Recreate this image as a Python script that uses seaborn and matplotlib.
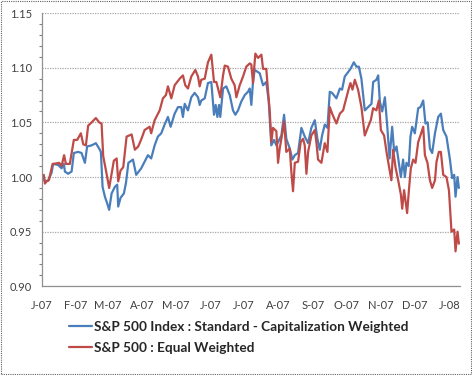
import numpy as np
import pandas as pd
import matplotlib
matplotlib.use('Agg')
import matplotlib.pyplot as plt
import matplotlib.ticker as mticker
import seaborn as sns
from matplotlib.patches import Rectangle

# days since 2007-01-01 and index level
cap_days = [2, 3, 6, 9, 10.4, 14.9, 17.9, 20.0, 20.9, 23.8,
            26.9, 28.9, 32.8, 35.8, 38.8, 40.8, 44.8, 48.6, 51.6, 53.1,
            54.6, 56.7, 58.7, 60.5, 62.7, 65.6, 67.7, 68.6, 70.7, 73.7,
            75.6, 77.7, 81.8, 84.7, 89.2, 95.2, 98.1, 101.2, 104.1, 107.1,
            110.1, 113.1, 115.5, 119.1, 122.1, 125.0, 126.5, 128.1, 131.0, 134.0,
            137.0, 140.0, 141.5, 142.9, 146.0, 148.9, 151.9, 154.3, 155.8, 157.3,
            158.8, 159.9, 162.4, 165.3, 168.4, 171.3, 173.4, 175.8, 178.7, 181.8,
            184.7, 186.3, 187.7, 189.2, 190.7, 195.2, 198.2, 201.1, 203.3, 205.6,
            208.0, 210.1, 212.1, 214.6, 217.0, 219.0, 222.1, 224.4, 226.6, 229.5,
            232.5, 235.5, 238.5, 241.4, 244.5, 246.8, 248.9, 251.0, 253.4, 255.8,
            257.9, 260.0, 263.8, 266.9, 268.9, 271.3, 274.3, 276.4, 279.4, 281.7,
            283.9, 286.2, 289.2, 292.2, 295.2, 296.7, 299.6, 301.2, 302.7, 304.8,
            307.2, 309.2, 311.4, 313.7, 315.5, 317.6, 319.1, 321.5, 323.5, 325.1,
            326.5, 328.5, 330.1, 331.6, 334.0, 337.0, 339.0, 341.5, 343.5, 345.5,
            347.5, 349.5, 352.0, 354.9, 357.3, 359.4, 362.3, 365.4, 367.4, 369.2,
            370.4, 372.2, 373.4]
cap_vals = [0.999, 0.996, 0.997, 1.004, 1.012, 1.011, 1.008, 1.012, 1.005, 1.003,
            1.005, 1.022, 1.023, 1.022, 1.013, 1.028, 1.029, 1.031, 1.026, 1.023,
            0.991, 0.982, 0.976, 0.970, 0.985, 0.991, 0.993, 0.973, 0.981, 0.985,
            0.995, 1.013, 1.016, 1.002, 1.008, 1.020, 1.017, 1.029, 1.037, 1.040,
            1.048, 1.055, 1.046, 1.058, 1.064, 1.064, 1.055, 1.067, 1.061, 1.073,
            1.077, 1.073, 1.066, 1.070, 1.072, 1.086, 1.087, 1.057, 1.066, 1.055,
            1.066, 1.055, 1.081, 1.083, 1.075, 1.061, 1.057, 1.061, 1.069, 1.075,
            1.078, 1.081, 1.066, 1.087, 1.098, 1.095, 1.084, 1.087, 1.069, 1.029,
            1.034, 1.029, 1.033, 1.038, 1.057, 1.035, 1.026, 1.016, 1.020, 1.022,
            1.045, 1.037, 1.031, 1.045, 1.052, 1.035, 1.025, 1.038, 1.048, 1.045,
            1.078, 1.077, 1.072, 1.081, 1.080, 1.092, 1.096, 1.099, 1.105, 1.101,
            1.101, 1.090, 1.061, 1.064, 1.067, 1.087, 1.089, 1.093, 1.069, 1.060,
            1.073, 1.048, 1.017, 1.046, 1.023, 1.028, 1.017, 1.000, 1.016, 1.000,
            1.013, 1.010, 1.037, 1.046, 1.040, 1.063, 1.064, 1.070, 1.049, 1.050,
            1.026, 1.022, 1.040, 1.055, 1.058, 1.043, 1.037, 1.016, 0.999, 1.002,
            0.982, 1.000, 0.990]

eq_days = [2, 3, 4.5, 6.5, 8.1, 9.9, 13.4, 15.8, 17.9, 20.2,
           21.8, 25.3, 28.9, 31.9, 35.2, 37.3, 39.7, 41.7, 44.8, 48.6,
           51.6, 53.7, 55.2, 58.2, 60.5, 62.7, 64.7, 67.2, 68.6, 70.7,
           73.1, 76.1, 80.6, 83.5, 86.5, 89.4, 92.2, 96.7, 98.1, 101.2,
           105.7, 108.6, 111.3, 113.1, 116.1, 119.1, 123.6, 126.5, 128.6, 131.0,
           134.0, 137.6, 140.0, 141.5, 142.9, 146.0, 148.9, 151.9, 154.3, 156.4,
           159.9, 162.4, 163.9, 166.8, 169.8, 172.8, 174.3, 177.3, 180.3, 183.2,
           186.3, 187.7, 189.2, 191.3, 193.7, 196.7, 198.2, 201.1, 202.7, 204.2,
           205.6, 207.1, 210.1, 211.6, 213.1, 214.6, 217.0, 219.0, 222.1, 223.5,
           225.0, 226.6, 229.5, 231.9, 234.0, 235.5, 237.0, 238.5, 241.4, 244.5,
           245.9, 247.4, 250.4, 253.4, 255.8, 257.9, 260.0, 263.8, 266.9, 269.8,
           272.8, 274.9, 276.4, 278.2, 280.3, 283.2, 286.2, 289.2, 292.2, 294.6,
           296.7, 299.6, 301.8, 303.6, 306.5, 308.8, 313.0, 314.6, 316.7, 319.1,
           321.5, 322.7, 324.4, 327.1, 328.7, 330.4, 332.5, 334.6, 337.0, 339.0,
           341.5, 343.0, 345.3, 347.5, 349.5, 352.0, 353.4, 355.5, 357.3, 359.4,
           362.3, 364.5, 366.8, 369.2, 370.4, 372.2, 373.4]
eq_vals = [1.002, 0.994, 0.996, 0.997, 1.004, 1.012, 1.0125, 1.013, 1.010, 1.020,
           1.012, 1.012, 1.034, 1.034, 1.040, 1.030, 1.029, 1.047, 1.050, 1.054,
           1.050, 1.049, 1.019, 1.003, 0.990, 1.003, 1.015, 1.017, 0.996, 1.006,
           1.009, 1.037, 1.039, 1.025, 1.028, 1.035, 1.043, 1.046, 1.040, 1.052,
           1.061, 1.072, 1.075, 1.083, 1.072, 1.084, 1.090, 1.093, 1.084, 1.081,
           1.092, 1.098, 1.092, 1.083, 1.089, 1.090, 1.105, 1.112, 1.087, 1.087,
           1.073, 1.093, 1.102, 1.101, 1.090, 1.084, 1.073, 1.084, 1.092, 1.101,
           1.104, 1.103, 1.086, 1.113, 1.109, 1.112, 1.099, 1.099, 1.078, 1.060,
           1.032, 1.045, 1.042, 1.013, 1.026, 1.035, 1.051, 1.023, 1.026, 1.005,
           0.987, 1.013, 1.014, 1.032, 1.035, 1.029, 1.003, 1.023, 1.038, 1.043,
           1.032, 1.016, 1.013, 1.031, 1.023, 1.064, 1.058, 1.049, 1.058, 1.061,
           1.073, 1.081, 1.086, 1.080, 1.089, 1.080, 1.064, 1.038, 1.046, 1.052,
           1.063, 1.061, 1.070, 1.043, 1.038, 1.022, 0.997, 1.025, 1.009, 0.997,
           0.984, 0.971, 0.988, 0.967, 0.988, 1.008, 1.016, 1.013, 1.032, 1.038,
           1.046, 1.020, 1.013, 0.997, 0.990, 0.997, 1.014, 1.023, 1.023, 1.002,
           1.000, 0.988, 0.950, 0.952, 0.932, 0.950, 0.939]

series_names = ['S&P 500 Index : Standard - Capitalization Weighted',
                'S&P 500 : Equal Weighted']
month_labels = ['J-07', 'F-07', 'M-07', 'A-07', 'M-07', 'J-07', 'J-07',
                'A-07', 'S-07', 'O-07', 'N-07', 'D-07', 'J-08']
y_ticks = [0.90, 0.95, 1.00, 1.05, 1.10, 1.15]

start = pd.Timestamp('2007-01-01')
df = pd.concat([
    pd.DataFrame({'date': start + pd.to_timedelta(cap_days, unit='D'),
                  'value': cap_vals, 'series': series_names[0]}),
    pd.DataFrame({'date': start + pd.to_timedelta(eq_days, unit='D'),
                  'value': eq_vals, 'series': series_names[1]}),
])

sns.set_style('white')
plt.rcParams['font.family'] = ['Lato', 'DejaVu Sans']

fig = plt.figure(figsize=(4.72, 3.75), dpi=100)
ax = fig.add_axes([0.088, 0.2365, 0.887, 0.7285])

sns.lineplot(data=df, x='date', y='value', hue='series', hue_order=series_names,
             palette=['#4A7EBB', '#BE4B48'], linewidth=1.6, ax=ax, legend=False)

ax.set_ylim(0.90, 1.15)
ax.set_xlim(start, pd.Timestamp('2008-01-10 14:00'))
ax.set_yticks(y_ticks)
ax.yaxis.set_major_formatter(mticker.FormatStrFormatter('%.2f'))
ax.yaxis.set_minor_locator(mticker.MultipleLocator(0.01))
month_starts = pd.date_range('2007-01-01', '2008-01-01', freq='MS')
ax.set_xticks(month_starts)
ax.set_xticklabels(month_labels)
ax.set_xlabel('')
ax.set_ylabel('')

ax.yaxis.grid(True, which='major', linestyle=(0, (1, 1)), color='#a6a6a6', lw=0.9)
ax.tick_params(axis='both', which='major', labelsize=8, colors='#808080',
               labelcolor='#404040', length=4, width=0.8, direction='out')
ax.tick_params(axis='y', which='minor', length=2, width=0.8, colors='#808080', left=True)
ax.tick_params(axis='x', pad=6)
ax.tick_params(axis='y', pad=3)
for side in ['top', 'right']:
    ax.spines[side].set_visible(False)
for side in ['left', 'bottom']:
    ax.spines[side].set_color('#909090')
    ax.spines[side].set_linewidth(0.9)
    ax.spines[side].set_linestyle((0, (1, 1)))

lines = ax.get_lines()[:2]
leg = fig.legend(lines, series_names, loc='upper left', bbox_to_anchor=(0.135, 0.158),
                 frameon=False, handlelength=1.7, handletextpad=0.1, labelspacing=0.65,
                 prop={'size': 9.8, 'weight': 'bold'}, borderaxespad=0)

fig.patches.append(Rectangle((0.002, 0.003), 0.995, 0.994, transform=fig.transFigure,
                             fill=False, ec='#606060', lw=0.8, ls=(0, (1, 1))))

fig.savefig('out.png', dpi=100)
